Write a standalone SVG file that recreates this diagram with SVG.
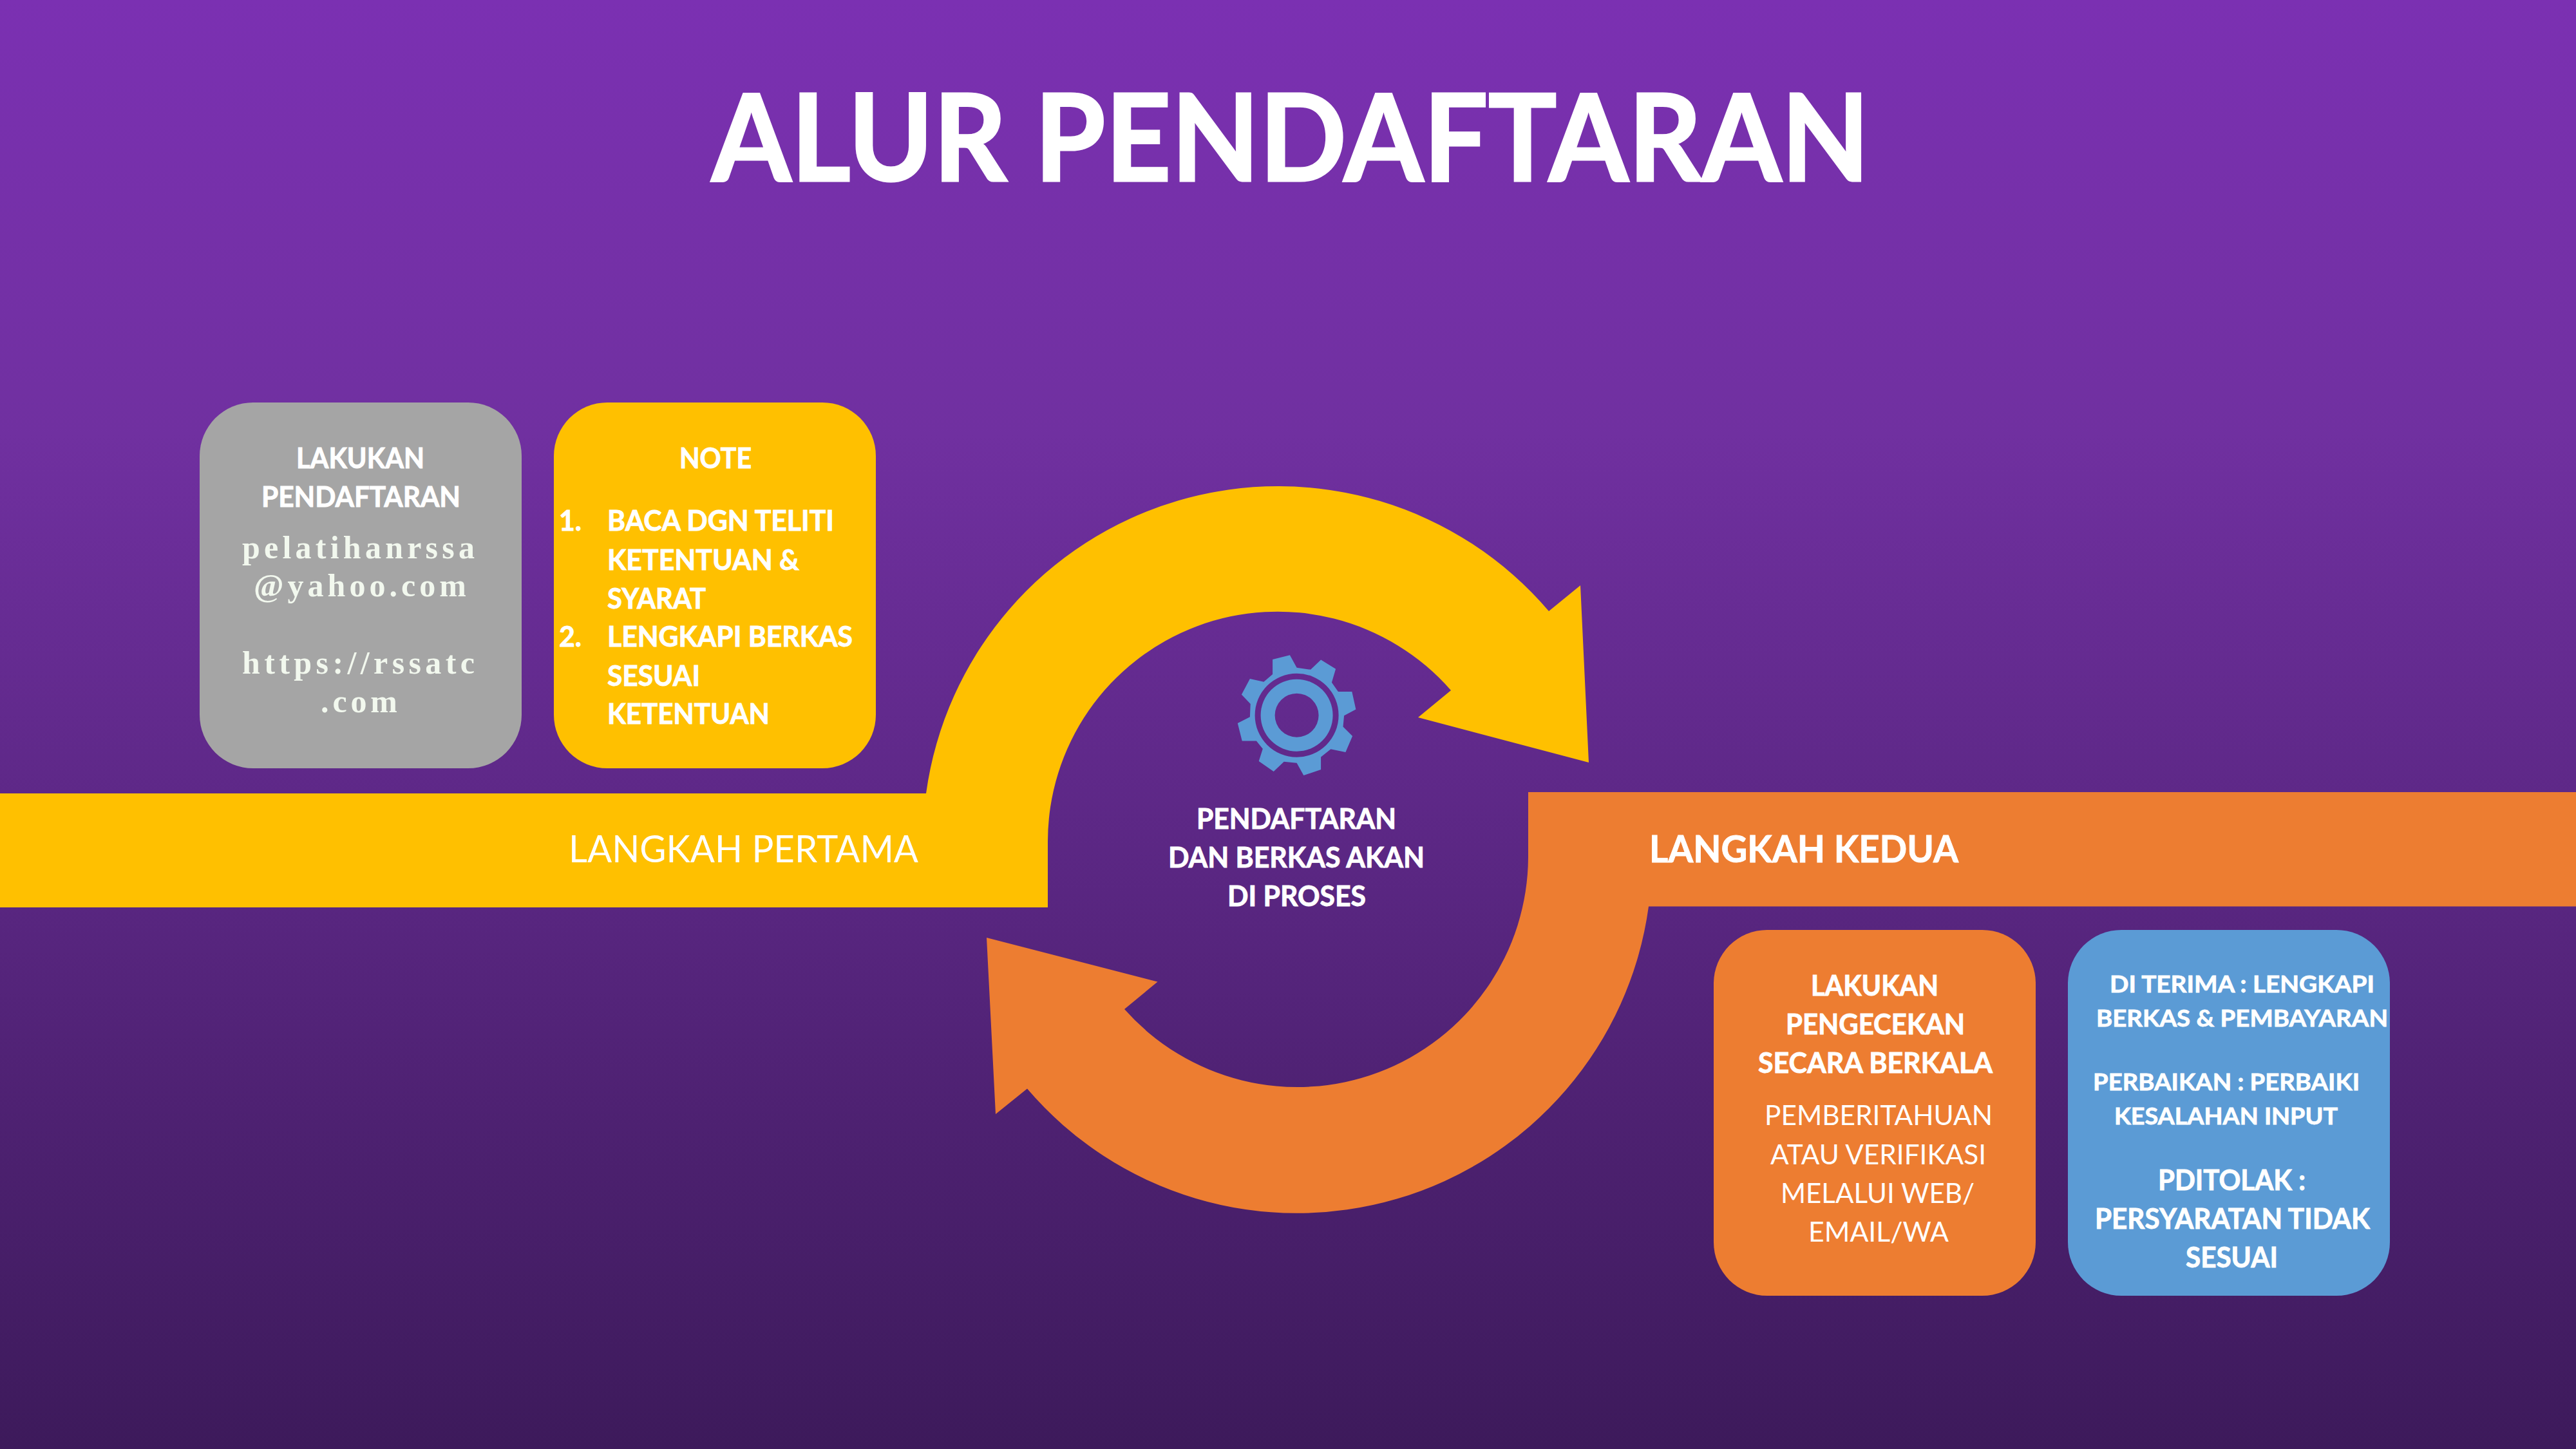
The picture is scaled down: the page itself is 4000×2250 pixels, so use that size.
<svg xmlns="http://www.w3.org/2000/svg" width="4000" height="2250" viewBox="0 0 4000 2250">
<defs>
<linearGradient id="bg" x1="0" y1="0" x2="0" y2="1">
<stop offset="0" stop-color="#7B30B2"/><stop offset="0.3" stop-color="#7030A0"/><stop offset="1" stop-color="#3D1A5B"/>
</linearGradient>
<style>
text{fill:#fff;font-family:"Lato","Open Sans","Liberation Sans",sans-serif;}
.b{font-weight:700;stroke:#fff;stroke-width:0.9px;}
.t{font-weight:700;font-size:188px;stroke:#fff;stroke-width:3px;}
.s{font-size:58px;}
.m{font-size:43px;}
.n{font-size:36px;font-weight:700;stroke:#fff;stroke-width:0.8px;}
.e{font-family:"Liberation Serif",serif;font-weight:700;font-size:50px;fill:#F2F8EE;}
</style>
</defs>
<rect width="4000" height="2250" fill="url(#bg)"/>
<text id="title" class="t" x="1105" y="281" textLength="1798" lengthAdjust="spacingAndGlyphs">ALUR PENDAFTARAN</text>
<g id="connectors">
<path id="arrow-yellow" fill="#FFC000" d="M0 1232H1438A552 552 0 0 1 2405 949L2454 909L2467 1184L2202 1114L2253 1072A357 357 0 0 0 1627 1307V1409H0Z"/>
<path id="arrow-orange" fill="#ED7D31" d="M4000 1230H2373V1331A358.5 358.5 0 0 1 1746 1567L1797.5 1524.5L1532 1456L1546 1730L1595 1690.6A551 551 0 0 0 2560 1407.5H4000Z"/>
<text class="s" x="883" y="1339" textLength="543" lengthAdjust="spacingAndGlyphs">LANGKAH PERTAMA</text>
<text class="s b" x="2561" y="1339" textLength="480" lengthAdjust="spacingAndGlyphs">LANGKAH KEDUA</text>
</g>
<g id="node-gray">
<rect x="310" y="625" width="500" height="568" rx="83" fill="#A5A5A5"/>
<text class="m b" x="460" y="727" textLength="199" lengthAdjust="spacingAndGlyphs">LAKUKAN</text>
<text class="m b" x="406" y="787" textLength="309" lengthAdjust="spacingAndGlyphs">PENDAFTARAN</text>
<text class="e" x="376" y="867" textLength="361" lengthAdjust="spacing">pelatihanrssa</text>
<text class="e" x="394" y="926" textLength="330" lengthAdjust="spacing">@yahoo.com</text>
<text class="e" x="376" y="1046" textLength="361" lengthAdjust="spacing">https://rssatc</text>
<text class="e" x="498" y="1106" textLength="119" lengthAdjust="spacing">.com</text>
</g>
<g id="node-note">
<rect x="860" y="625" width="500" height="568" rx="83" fill="#FFC000"/>
<text class="m b" x="1055" y="727" textLength="112" lengthAdjust="spacingAndGlyphs">NOTE</text>
<text class="m b" x="868" y="824" textLength="35" lengthAdjust="spacingAndGlyphs">1.</text>
<text class="m b" x="943" y="824" textLength="352" lengthAdjust="spacingAndGlyphs">BACA DGN TELITI</text>
<text class="m b" x="943" y="885" textLength="298" lengthAdjust="spacingAndGlyphs">KETENTUAN &amp;</text>
<text class="m b" x="943" y="945" textLength="153" lengthAdjust="spacingAndGlyphs">SYARAT</text>
<text class="m b" x="868" y="1004" textLength="35" lengthAdjust="spacingAndGlyphs">2.</text>
<text class="m b" x="943" y="1004" textLength="381" lengthAdjust="spacingAndGlyphs">LENGKAPI BERKAS</text>
<text class="m b" x="943" y="1065" textLength="144" lengthAdjust="spacingAndGlyphs">SESUAI</text>
<text class="m b" x="943" y="1124" textLength="252" lengthAdjust="spacingAndGlyphs">KETENTUAN</text>
</g>
<g id="node-process">
<path fill="#5B9BD5" fill-rule="evenodd" d="M1976.1 1024L2002.9 1017.3L2013.6 1036.7L2035.1 1039.8L2051.1 1024.5L2074.1 1038.8L2067.9 1059.7L2077.9 1074L2099.3 1074L2105.4 1101.5L2087.1 1111.2L2085.5 1128.6L2100.1 1142.9L2089.4 1167.9L2066.4 1163.3L2051.1 1175.5L2051.1 1194.9L2024.3 1204.1L2013.6 1184.7L1993.7 1182.7L1977.7 1198L1954.7 1182.1L1960.8 1162.8L1950.9 1150.5L1928.7 1150.5L1921.8 1123L1940.9 1113.3L1941.7 1092.9L1927.9 1078.6L1940.9 1054.1L1962.4 1058.7L1976.1 1046.9Z M2078.6 1110.7A65 65 0 1 0 1948.6 1110.7A65 65 0 1 0 2078.6 1110.7Z M2069.6 1110.7A56 56 0 1 0 1957.6 1110.7A56 56 0 1 0 2069.6 1110.7Z M2047.6 1110.7A34 34 0 1 0 1979.6 1110.7A34 34 0 1 0 2047.6 1110.7Z"/>
<text class="m b" x="1858" y="1287" textLength="310" lengthAdjust="spacingAndGlyphs">PENDAFTARAN</text>
<text class="m b" x="1814" y="1347" textLength="398" lengthAdjust="spacingAndGlyphs">DAN BERKAS AKAN</text>
<text class="m b" x="1906" y="1407" textLength="215" lengthAdjust="spacingAndGlyphs">DI PROSES</text>
</g>
<g id="node-check">
<rect x="2661" y="1444" width="500" height="568" rx="83" fill="#ED7D31"/>
<text class="m b" x="2812" y="1546" textLength="198" lengthAdjust="spacingAndGlyphs">LAKUKAN</text>
<text class="m b" x="2773" y="1606" textLength="278" lengthAdjust="spacingAndGlyphs">PENGECEKAN</text>
<text class="m b" x="2730" y="1666" textLength="364" lengthAdjust="spacingAndGlyphs">SECARA BERKALA</text>
<text class="m" x="2740" y="1747" textLength="354" lengthAdjust="spacingAndGlyphs">PEMBERITAHUAN</text>
<text class="m" x="2749" y="1808" textLength="335" lengthAdjust="spacingAndGlyphs">ATAU VERIFIKASI</text>
<text class="m" x="2765" y="1868" textLength="301" lengthAdjust="spacingAndGlyphs">MELALUI WEB/</text>
<text class="m" x="2808" y="1928" textLength="218" lengthAdjust="spacingAndGlyphs">EMAIL/WA</text>
</g>
<g id="node-result">
<rect x="3211" y="1444" width="500" height="568" rx="83" fill="#5B9BD5"/>
<text class="n" x="3276" y="1541" textLength="411" lengthAdjust="spacingAndGlyphs">DI TERIMA : LENGKAPI</text>
<text class="n" x="3255" y="1594" textLength="453" lengthAdjust="spacingAndGlyphs">BERKAS &amp; PEMBAYARAN</text>
<text class="n" x="3250" y="1693" textLength="414" lengthAdjust="spacingAndGlyphs">PERBAIKAN : PERBAIKI</text>
<text class="n" x="3283" y="1746" textLength="347" lengthAdjust="spacingAndGlyphs">KESALAHAN INPUT</text>
<text class="m b" x="3351" y="1848" textLength="229" lengthAdjust="spacingAndGlyphs">PDITOLAK :</text>
<text class="m b" x="3253" y="1908" textLength="427" lengthAdjust="spacingAndGlyphs">PERSYARATAN TIDAK</text>
<text class="m b" x="3394" y="1968" textLength="143" lengthAdjust="spacingAndGlyphs">SESUAI</text>
</g>
</svg>
